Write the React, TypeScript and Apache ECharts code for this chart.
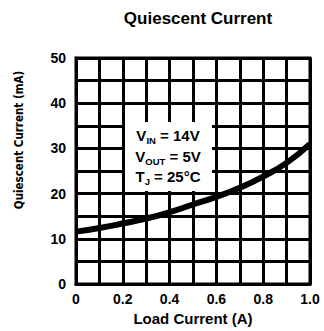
import React, { useEffect, useRef } from "react";
import * as echarts from "echarts";

const loadCurrent = [0, 0.1, 0.2, 0.3, 0.4, 0.5, 0.6, 0.7, 0.8, 0.9, 1.0];
const quiescentCurrent = [11.6, 12.4, 13.4, 14.5, 15.9, 17.6, 19.3, 21.3, 23.8, 26.8, 31];
const titleText = "Quiescent Current";
const xAxisTitle = "Load Current (A)";
const yAxisTitle = "Quiescent Current (mA)";

const FONT = '"Liberation Sans", Arial, sans-serif';

export default function App() {
  const ref = useRef<HTMLDivElement>(null);
  useEffect(() => {
    if (!ref.current) return;
    const chart = echarts.init(ref.current, undefined, { renderer: "svg" });
    const data = loadCurrent.map((x, i) => [x, quiescentCurrent[i]]);
    chart.setOption({
      animation: false,
      backgroundColor: "#fff",
      title: {
        text: titleText,
        left: 193,
        top: 5,
        textAlign: "center",
        textStyle: { fontFamily: FONT, fontWeight: "bold", fontSize: 17, color: "#000" },
      },
      grid: {
        left: 76,
        right: 14,
        top: 58,
        bottom: 45,
        show: true,
        borderColor: "#000",
        borderWidth: 3,
      },
      xAxis: {
        type: "value",
        min: 0,
        max: 1,
        interval: 0.1,
        name: xAxisTitle,
        nameLocation: "middle",
        nameGap: 26,
        nameTextStyle: { fontFamily: FONT, fontWeight: "bold", fontSize: 15, color: "#000" },
        axisLine: { show: true, lineStyle: { color: "#000", width: 3 } },
        axisTick: { show: false },
        axisLabel: {
          margin: 8,
          fontFamily: FONT,
          fontWeight: "bold",
          fontSize: 14,
          color: "#000",
          formatter: (v: number) => {
            const k = Math.round(v * 10);
            if (k % 2 !== 0) return "";
            return k === 0 ? "0" : (k / 10).toFixed(1);
          },
        },
        splitLine: { show: true, lineStyle: { color: "#000", width: 3 } },
      },
      yAxis: {
        type: "value",
        min: 0,
        max: 50,
        interval: 5,
        axisLine: { show: true, lineStyle: { color: "#000", width: 3 } },
        axisTick: { show: false },
        axisLabel: {
          margin: 10,
          fontFamily: FONT,
          fontWeight: "bold",
          fontSize: 14,
          color: "#000",
          formatter: (v: number) => (Math.round(v) % 10 === 0 ? String(Math.round(v)) : ""),
        },
        splitLine: { show: true, lineStyle: { color: "#000", width: 3 } },
      },
      graphic: [
        {
          type: "text",
          x: 19,
          y: 140,
          rotation: Math.PI / 2,
          z: 100,
          style: {
            text: yAxisTitle,
            fontFamily: '"Liberation Sans Narrow", "DejaVu Sans Condensed", sans-serif',
            fontWeight: "bold",
            fontSize: 11.5,
            fill: "#000",
            align: "center",
            verticalAlign: "middle",
          },
        },
        {
          type: "rect",
          z: 100,
          shape: { x: 125, y: 122, width: 87, height: 69 },
          style: { fill: "#fff" },
        },
        {
          type: "text",
          z: 101,
          x: 168,
          y: 156,
          style: {
            text: "{m|V}{s|IN}{m| = 14V}\n{m|V}{s|OUT}{m| = 5V}\n{m|T}{s|J}{m| = 25°C}",
            align: "center",
            verticalAlign: "middle",
            fill: "#000",
            rich: {
              m: { fontFamily: FONT, fontWeight: "bold", fontSize: 15, lineHeight: 20.5, fill: "#000" },
              s: {
                fontFamily: FONT,
                fontWeight: "bold",
                fontSize: 9.5,
                lineHeight: 20.5,
                verticalAlign: "bottom",
                padding: [6, 0, 0, 0],
                fill: "#000",
              },
            },
          },
        },
      ],
      series: [
        {
          type: "line",
          data,
          smooth: true,
          showSymbol: false,
          lineStyle: { color: "#000", width: 6 },
          z: 10,
        },
      ],
    });
    return () => chart.dispose();
  }, []);
  return <div ref={ref} style={{ width: 324, height: 331, position: "absolute", left: 0, top: 0 }} />;
}
